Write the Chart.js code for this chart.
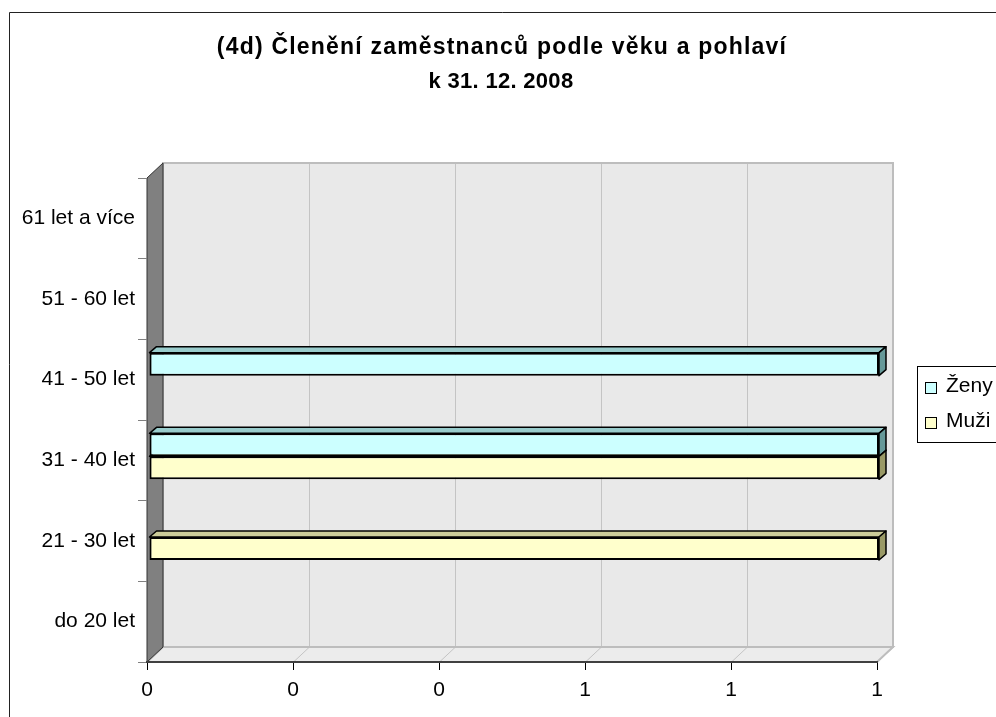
<!DOCTYPE html>
<html><head><meta charset="utf-8">
<script src="https://cdn.jsdelivr.net/npm/chart.js@4.4.0/dist/chart.umd.min.js"></script>
<style>html,body{margin:0;padding:0;background:#fff}canvas{display:block}</style>
</head><body>
<canvas id="c" width="996" height="717"></canvas>
<script>
const titleLines = ['(4d) Členění zaměstnanců podle věku a pohlaví', 'k 31. 12. 2008'];
const categories = ['do 20 let', '21 - 30 let', '31 - 40 let', '41 - 50 let', '51 - 60 let', '61 let a více'];
const seriesNames = ['Ženy', 'Muži'];
const zenyValues = [0, 0, 1, 1, 0, 0];
const muziValues = [0, 1, 1, 0, 0, 0];
const xTickValues = [0, 0.2, 0.4, 0.6, 0.8, 1];

const FONT = "'Liberation Sans', Arial, sans-serif";
const frontColors = ['#CCFFFF', '#FFFFCC'];
const topColors = ['#99CCCC', '#CCCC99'];
const sideColors = ['#669999', '#999966'];
const WALL = {dx: 16, dy: -15};
const BAR = {dx: 7, dy: -6};
const SHIFT = {x: 2, y: -4};

function poly(ctx, pts) {
  ctx.beginPath();
  ctx.moveTo(pts[0][0], pts[0][1]);
  for (let i = 1; i < pts.length; i++) ctx.lineTo(pts[i][0], pts[i][1]);
  ctx.closePath();
}

const scene3d = {
  id: 'scene3d',
  beforeDraw(chart) {
    const {ctx, chartArea: a, scales: {x}} = chart;
    const dx = WALL.dx, dy = WALL.dy;
    ctx.save();
    ctx.fillStyle = '#fff';
    ctx.fillRect(0, 0, chart.width, chart.height);
    // outer frame
    ctx.strokeStyle = '#222'; ctx.lineWidth = 1;
    ctx.beginPath(); ctx.moveTo(9.5, chart.height); ctx.lineTo(9.5, 12.5); ctx.lineTo(chart.width, 12.5); ctx.stroke();
    // back wall
    ctx.fillStyle = '#e9e9e9';
    ctx.fillRect(a.left + dx, a.top + dy, a.right - a.left, a.bottom - a.top);
    // floor
    ctx.fillStyle = '#ececec';
    poly(ctx, [[a.left, a.bottom], [a.right, a.bottom], [a.right + dx, a.bottom + dy], [a.left + dx, a.bottom + dy]]);
    ctx.fill();
    // gridlines
    ctx.strokeStyle = '#c4c4c4'; ctx.lineWidth = 1;
    xTickValues.forEach(v => {
      const px = Math.round(x.getPixelForValue(v)) + 0.5;
      ctx.beginPath();
      ctx.moveTo(px + dx, a.top + dy); ctx.lineTo(px + dx, a.bottom + dy);
      ctx.moveTo(px, a.bottom); ctx.lineTo(px + dx, a.bottom + dy);
      ctx.stroke();
    });
    // wall borders
    ctx.strokeStyle = '#bdbdbd'; ctx.lineWidth = 2;
    ctx.strokeRect(a.left + dx, a.top + dy, a.right - a.left, a.bottom - a.top);
    poly(ctx, [[a.left, a.bottom], [a.right, a.bottom], [a.right + dx, a.bottom + dy], [a.left + dx, a.bottom + dy]]);
    ctx.stroke();
    // left wall
    ctx.fillStyle = '#808080';
    poly(ctx, [[a.left, a.top], [a.left + dx, a.top + dy], [a.left + dx, a.bottom + dy], [a.left, a.bottom]]);
    ctx.fill();
    ctx.strokeStyle = '#333'; ctx.lineWidth = 1;
    ctx.stroke();
    // title
    ctx.fillStyle = '#000';
    ctx.textAlign = 'center'; ctx.textBaseline = 'middle';
    ctx.font = 'bold 23px ' + FONT;
    ctx.letterSpacing = '1.2px';
    ctx.fillText(titleLines[0], 502, 48);
    ctx.font = 'bold 22px ' + FONT;
    ctx.letterSpacing = '0.3px';
    ctx.fillText(titleLines[1], 501, 82);
    ctx.letterSpacing = '0px';
    // legend
    ctx.fillStyle = '#fff';
    ctx.fillRect(917.5, 366.5, 90, 76);
    ctx.strokeStyle = '#000'; ctx.lineWidth = 1;
    ctx.strokeRect(917.5, 366.5, 90, 76);
    ctx.font = '21px ' + FONT;
    ctx.textAlign = 'left';
    chart.data.datasets.forEach((ds, i) => {
      const yy = 382 + i * 35;
      ctx.fillStyle = frontColors[i];
      ctx.fillRect(925.5, yy + 0.5, 11, 11);
      ctx.strokeStyle = '#000';
      ctx.strokeRect(925.5, yy + 0.5, 11, 11);
      ctx.fillStyle = '#000';
      ctx.fillText(ds.label, 946, yy + 4);
    });
    ctx.restore();
  },
  beforeDatasetsDraw(chart) {
    const ctx = chart.ctx;
    ctx.save();
    ctx.translate(SHIFT.x, SHIFT.y);
    const metas = chart.data.datasets.map((d, i) => chart.getDatasetMeta(i));
    ctx.strokeStyle = '#000'; ctx.lineWidth = 1.5; ctx.lineJoin = 'round';
    // top faces
    metas.forEach((meta, di) => {
      meta.data.forEach((el, j) => {
        if (!chart.data.datasets[di].data[j]) return;
        const p = el.getProps(['x', 'y', 'base', 'height'], true);
        const x0 = p.base, x1 = p.x, y0 = p.y - p.height / 2;
        poly(ctx, [[x0, y0], [x1, y0], [x1 + BAR.dx, y0 + BAR.dy], [x0 + BAR.dx, y0 + BAR.dy]]);
        ctx.fillStyle = topColors[di]; ctx.fill(); ctx.stroke();
      });
    });
    // side faces
    metas.forEach((meta, di) => {
      meta.data.forEach((el, j) => {
        if (!chart.data.datasets[di].data[j]) return;
        const p = el.getProps(['x', 'y', 'base', 'height'], true);
        const x1 = p.x, y0 = p.y - p.height / 2, y1 = p.y + p.height / 2;
        poly(ctx, [[x1, y0], [x1 + BAR.dx, y0 + BAR.dy], [x1 + BAR.dx, y1 + BAR.dy], [x1, y1]]);
        ctx.fillStyle = sideColors[di]; ctx.fill(); ctx.stroke();
      });
    });
  },
  afterDatasetsDraw(chart) {
    chart.ctx.restore();
  }
};

new Chart(document.getElementById('c'), {
  type: 'bar',
  data: {
    labels: categories,
    datasets: [
      {label: seriesNames[0], data: zenyValues, backgroundColor: frontColors[0], borderColor: '#000',
       borderWidth: c => (c.raw ? 2 : 0), borderSkipped: false},
      {label: seriesNames[1], data: muziValues, backgroundColor: frontColors[1], borderColor: '#000',
       borderWidth: c => (c.raw ? 2 : 0), borderSkipped: false}
    ]
  },
  options: {
    indexAxis: 'y',
    responsive: false,
    animation: false,
    events: [],
    categoryPercentage: 0.57,
    barPercentage: 1,
    layout: {padding: {top: 178, right: 119, left: 0, bottom: 0}},
    plugins: {legend: {display: false}, title: {display: false}, tooltip: {enabled: false}},
    scales: {
      x: {
        min: 0, max: 1,
        afterFit(s) { s.height = 55; },
        afterBuildTicks(s) { s.ticks = xTickValues.map(v => ({value: v})); },
        ticks: {callback: v => String(Math.round(v)), color: '#000', font: {family: FONT, size: 21}, padding: 8, maxRotation: 0, autoSkip: false},
        grid: {drawOnChartArea: false, drawTicks: true, tickLength: 8, color: '#000'},
        border: {display: true, color: '#404040', width: 2}
      },
      y: {
        reverse: true,
        afterFit(s) { s.width = 147; },
        ticks: {color: '#000', font: {family: FONT, size: 21}, padding: 3},
        grid: {drawOnChartArea: false, tickLength: 9, color: '#808080', offset: true},
        border: {display: false}
      }
    }
  },
  plugins: [scene3d]
});
</script>
</body></html>
